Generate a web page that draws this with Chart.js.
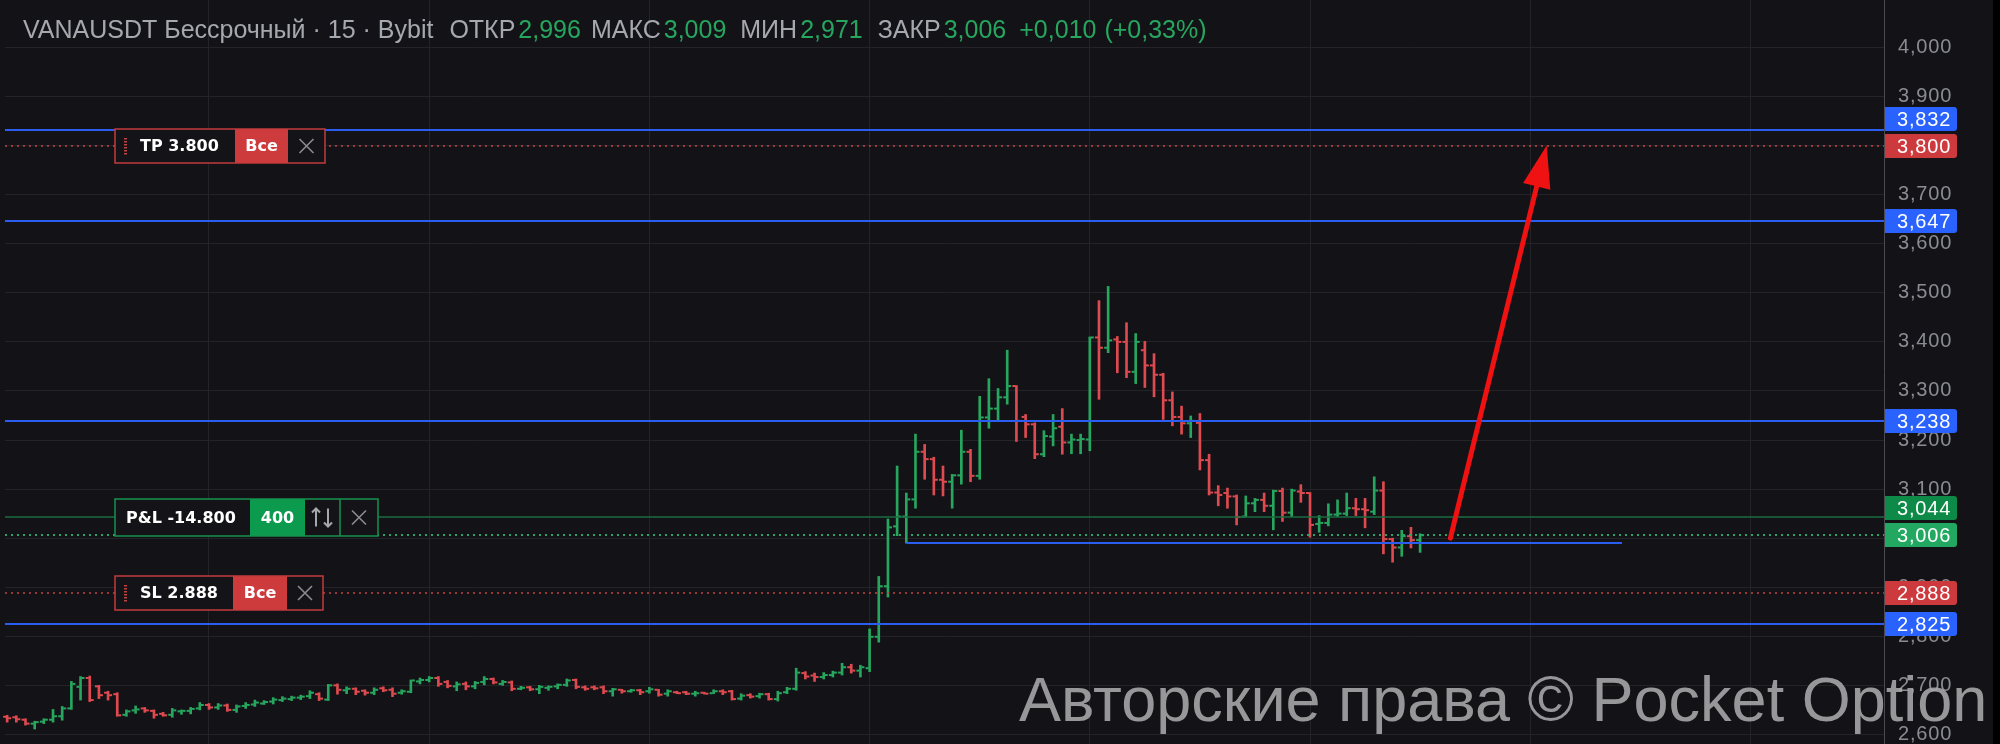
<!DOCTYPE html>
<html>
<head>
<meta charset="utf-8">
<script src="https://cdn.jsdelivr.net/npm/chart.js@4.4.1/dist/chart.umd.min.js"></script>
<style>
  html, body { margin: 0; padding: 0; background: #131317; }
  canvas { display: block; }
</style>
</head>
<body>
<canvas id="chart" width="2000" height="744"></canvas>
<script>
// 15-min bars, first visible bar number
const firstBar = 2;
const opens = [
  2.636,2.635,2.630,2.622,2.626,2.630,2.637,2.653,2.697,2.715,2.698,2.685,2.682,2.640,2.649,2.653,2.648,2.642,2.640,2.647,
  2.648,2.653,2.660,2.655,2.659,2.650,2.658,2.661,2.663,2.667,2.670,2.672,2.675,2.678,2.682,2.671,2.700,2.690,2.693,2.689,
  2.685,2.694,2.691,2.685,2.687,2.708,2.711,2.715,2.707,2.698,2.703,2.698,2.707,2.713,2.703,2.706,2.693,2.696,2.692,2.695,
  2.698,2.701,2.711,2.696,2.696,2.696,2.688,2.691,2.688,2.690,2.688,2.691,2.683,2.686,2.686,2.683,2.685,2.684,2.688,2.688,
  2.673,2.680,2.678,2.682,2.672,2.686,2.693,2.725,2.720,2.717,2.721,2.726,2.737,2.730,2.735,2.799,2.902,3.024,3.044,3.079,
  3.176,3.161,3.119,3.115,3.128,3.176,3.127,3.246,3.264,3.287,3.310,3.247,3.232,3.171,3.207,3.227,3.195,3.200,3.201,3.409,
  3.388,3.405,3.400,3.339,3.383,3.352,3.333,3.281,3.247,3.234,3.235,3.159,3.093,3.092,3.085,3.044,3.071,3.078,3.066,3.096,
  3.052,3.095,3.092,3.029,3.031,3.048,3.050,3.061,3.059,3.054,3.097,2.998,2.981,3.004,2.996
];
const highs = [
  2.639,2.638,2.632,2.627,2.632,2.651,2.657,2.708,2.718,2.719,2.700,2.688,2.685,2.650,2.658,2.655,2.650,2.645,2.653,2.650,
  2.655,2.665,2.663,2.663,2.662,2.660,2.665,2.670,2.669,2.675,2.677,2.678,2.680,2.689,2.685,2.702,2.703,2.697,2.695,2.691,
  2.695,2.697,2.695,2.691,2.711,2.715,2.718,2.718,2.710,2.707,2.707,2.708,2.718,2.715,2.710,2.709,2.698,2.698,2.700,2.699,
  2.703,2.713,2.713,2.699,2.699,2.699,2.694,2.692,2.692,2.692,2.696,2.692,2.691,2.688,2.688,2.688,2.686,2.691,2.691,2.690,
  2.683,2.683,2.684,2.684,2.688,2.696,2.735,2.728,2.725,2.726,2.729,2.745,2.743,2.741,2.815,2.922,3.039,3.147,3.092,3.212,
  3.191,3.165,3.147,3.130,3.220,3.181,3.289,3.325,3.305,3.383,3.311,3.252,3.235,3.219,3.252,3.264,3.212,3.212,3.410,3.484,
  3.513,3.411,3.439,3.417,3.401,3.376,3.336,3.298,3.269,3.249,3.254,3.171,3.107,3.102,3.088,3.086,3.081,3.092,3.098,3.102,
  3.100,3.109,3.093,3.046,3.070,3.078,3.092,3.081,3.081,3.125,3.115,3.000,3.016,3.022,3.009
];
const lows = [
  2.625,2.625,2.619,2.611,2.622,2.625,2.629,2.651,2.670,2.667,2.673,2.670,2.637,2.637,2.643,2.645,2.633,2.637,2.635,2.641,
  2.642,2.650,2.651,2.651,2.647,2.645,2.653,2.657,2.661,2.662,2.667,2.669,2.671,2.673,2.669,2.669,2.682,2.683,2.681,2.680,
  2.681,2.687,2.677,2.682,2.685,2.703,2.707,2.698,2.695,2.689,2.691,2.693,2.701,2.703,2.700,2.689,2.691,2.689,2.683,2.690,
  2.693,2.698,2.693,2.690,2.691,2.683,2.678,2.684,2.686,2.681,2.684,2.678,2.678,2.683,2.681,2.678,2.682,2.683,2.681,2.670,
  2.670,2.674,2.674,2.670,2.668,2.683,2.690,2.713,2.708,2.713,2.717,2.721,2.725,2.717,2.728,2.788,2.880,3.005,2.990,3.061,
  3.120,3.088,3.086,3.061,3.110,3.115,3.120,3.224,3.239,3.273,3.197,3.205,3.162,3.166,3.188,3.171,3.172,3.172,3.178,3.283,
  3.378,3.337,3.327,3.315,3.307,3.288,3.242,3.229,3.212,3.205,3.139,3.088,3.066,3.061,3.027,3.043,3.054,3.054,3.017,3.034,
  3.044,3.073,3.002,3.012,3.025,3.044,3.046,3.046,3.021,3.048,2.968,2.951,2.963,2.980,2.971
];
const closes = [
  2.633,2.631,2.622,2.625,2.630,2.637,2.653,2.703,2.715,2.670,2.680,2.680,2.639,2.647,2.651,2.649,2.640,2.639,2.649,2.648,
  2.652,2.660,2.655,2.659,2.650,2.657,2.660,2.665,2.666,2.671,2.673,2.675,2.677,2.685,2.673,2.700,2.691,2.693,2.687,2.685,
  2.691,2.690,2.683,2.688,2.710,2.711,2.715,2.703,2.699,2.702,2.698,2.705,2.713,2.706,2.707,2.693,2.695,2.692,2.697,2.697,
  2.701,2.710,2.697,2.693,2.694,2.688,2.692,2.688,2.690,2.686,2.692,2.681,2.688,2.684,2.683,2.684,2.683,2.688,2.686,2.672,
  2.679,2.677,2.682,2.672,2.684,2.693,2.726,2.718,2.717,2.721,2.726,2.737,2.730,2.737,2.799,2.902,3.022,3.044,3.079,3.176,
  3.161,3.119,3.115,3.128,3.176,3.127,3.246,3.264,3.287,3.310,3.239,3.232,3.171,3.208,3.224,3.195,3.201,3.202,3.409,3.388,
  3.403,3.400,3.339,3.400,3.352,3.333,3.281,3.247,3.234,3.239,3.159,3.093,3.088,3.085,3.043,3.071,3.078,3.066,3.096,3.052,
  3.097,3.092,3.027,3.031,3.048,3.050,3.061,3.059,3.057,3.097,2.998,2.981,3.004,2.996,3.006
];

// axis ticks
const yTicks = [2.6,2.7,2.8,2.9,3.0,3.1,3.2,3.3,3.4,3.5,3.6,3.7,3.8,3.9,4.0];
const xGrid = [24,48,72,96,120,144,168,192];

// horizontal price levels and their kind
const levelValues = [3.832, 3.800, 3.647, 3.238, 3.044, 3.006, 2.888, 2.825];
const levelKinds  = ['blue', 'tp', 'blue', 'blue', 'pnl', 'last', 'sl', 'blue'];

// short blue ray
const rayLevel = 2.990;
const rayFrom = 100;
const rayTo = 178;

// red arrow [bar, price]
const arrowStart = [159.3, 3.000];
const arrowEnd = [169.8, 3.800];

const tpLevel = 3.800;
const slLevel = 2.888;
const pnlLevel = 3.044;
const pnlText = 'P&L -14.800';
const qtyText = '400';

const symbolText = 'VANAUSDT Бессрочный · 15 · Bybit';
const watermark = 'Авторские права © Pocket Option';

const GREEN = '#26a65e';
const RED = '#de4a4f';
const GRID = '#232328';

const fmt = v => v.toFixed(3).replace('.', ',');

const barNo = opens.map((_, k) => firstBar + k);
const upBars = [], downBars = [];
barNo.forEach((x, k) => {
  const item = { x: x, y: [lows[k], highs[k]] };
  if (closes[k] >= opens[k]) upBars.push(item); else downBars.push(item);
});

const levelStyle = {
  blue: { color: '#2a5df0', width: 2, dash: [], badge: '#2962ff' },
  tp:   { color: '#c64444', width: 1.5, dash: [2, 4], badge: '#cc3a3d' },
  sl:   { color: '#c64444', width: 1.5, dash: [2, 4], badge: '#cc3a3d' },
  pnl:  { color: '#1b6b42', width: 1.5, dash: [], badge: '#0d8a47' },
  last: { color: '#2aa36a', width: 2, dash: [2, 4], badge: '#22a861' }
};

const ohlcTicks = {
  id: 'ohlcTicks',
  beforeDraw(chart) { chart.ctx.letterSpacing = '0.8px'; },
  beforeDatasetsDraw(chart) { chart.ctx.letterSpacing = '0px'; },
  afterDatasetsDraw(chart) {
    const ctx = chart.ctx, xs = chart.scales.x, ys = chart.scales.y;
    ctx.save();
    barNo.forEach((b, k) => {
      const x = xs.getPixelForValue(b);
      ctx.fillStyle = closes[k] >= opens[k] ? GREEN : RED;
      ctx.fillRect(x - 4, ys.getPixelForValue(opens[k]) - 1, 3, 2);
      ctx.fillRect(x + 1, ys.getPixelForValue(closes[k]) - 1, 3, 2);
    });
    ctx.restore();
  }
};

function drawCross(ctx, cx, cy) {
  ctx.strokeStyle = '#8c8c90';
  ctx.lineWidth = 1.6;
  ctx.setLineDash([]);
  ctx.beginPath();
  ctx.moveTo(cx - 7, cy - 7); ctx.lineTo(cx + 7, cy + 7);
  ctx.moveTo(cx + 7, cy - 7); ctx.lineTo(cx - 7, cy + 7);
  ctx.stroke();
}

function drawHandle(ctx, x, top, h) {
  ctx.fillStyle = '#c43f3f';
  for (let yy = top + 9; yy < top + h - 9; yy += 3) ctx.fillRect(x - 1, yy, 3, 1.5);
}

function drawTpSl(ctx, y, label, w, redFrom, redTo) {
  const left = 115, h = 34, top = Math.round(y) - 17;
  ctx.fillStyle = '#141418';
  ctx.fillRect(left, top, w, h);
  ctx.fillStyle = '#cd3b3d';
  ctx.fillRect(redFrom, top, redTo - redFrom, h);
  ctx.strokeStyle = '#c23b3d';
  ctx.lineWidth = 1.5;
  ctx.setLineDash([]);
  ctx.strokeRect(left, top, w, h);
  drawHandle(ctx, 125, top, h);
  ctx.fillStyle = '#ffffff';
  ctx.font = 'bold 16px "DejaVu Sans"';
  ctx.textBaseline = 'middle';
  ctx.textAlign = 'left';
  ctx.fillText(label, 140, top + h / 2 + 1);
  ctx.textAlign = 'center';
  ctx.fillText('Все', (redFrom + redTo) / 2, top + h / 2 + 1);
  drawCross(ctx, (redTo + left + w) / 2, top + h / 2);
}

function drawPnl(ctx, y) {
  const left = 115, w = 263, h = 37, top = Math.round(y) - 18;
  ctx.fillStyle = '#141418';
  ctx.fillRect(left, top, w, h);
  ctx.fillStyle = '#0c9a4f';
  ctx.fillRect(250, top, 55, h);
  ctx.strokeStyle = '#16934f';
  ctx.lineWidth = 1.5;
  ctx.setLineDash([]);
  ctx.strokeRect(left, top, w, h);
  ctx.beginPath();
  ctx.moveTo(340, top); ctx.lineTo(340, top + h);
  ctx.stroke();
  ctx.fillStyle = '#ffffff';
  ctx.font = 'bold 16px "DejaVu Sans"';
  ctx.textBaseline = 'middle';
  ctx.textAlign = 'left';
  ctx.fillText(pnlText, 126, top + h / 2 + 1);
  ctx.textAlign = 'center';
  ctx.fillText(qtyText, 277.5, top + h / 2 + 1);
  // up/down arrows
  const cy = top + h / 2;
  ctx.strokeStyle = '#a8a8ac';
  ctx.lineWidth = 2;
  ctx.beginPath();
  ctx.moveTo(316, cy + 9); ctx.lineTo(316, cy - 9);
  ctx.moveTo(312, cy - 5); ctx.lineTo(316, cy - 9); ctx.lineTo(320, cy - 5);
  ctx.moveTo(328, cy - 9); ctx.lineTo(328, cy + 9);
  ctx.moveTo(324, cy + 5); ctx.lineTo(328, cy + 9); ctx.lineTo(332, cy + 5);
  ctx.stroke();
  drawCross(ctx, 359, cy);
}

const overlay = {
  id: 'overlay',
  afterDatasetsDraw(chart) {
    const ctx = chart.ctx, xs = chart.scales.x, ys = chart.scales.y, a = chart.chartArea;
    ctx.save();
    levelValues.forEach((v, k) => {
      const st = levelStyle[levelKinds[k]];
      const y = Math.round(ys.getPixelForValue(v));
      ctx.strokeStyle = st.color;
      ctx.lineWidth = st.width;
      ctx.setLineDash(st.dash);
      ctx.beginPath();
      ctx.moveTo(a.left, y); ctx.lineTo(a.right, y);
      ctx.stroke();
    });
    ctx.setLineDash([]);
    // blue ray
    const ry = Math.round(ys.getPixelForValue(rayLevel));
    ctx.strokeStyle = '#2a5df0';
    ctx.lineWidth = 2;
    ctx.beginPath();
    ctx.moveTo(xs.getPixelForValue(rayFrom), ry);
    ctx.lineTo(xs.getPixelForValue(rayTo), ry);
    ctx.stroke();
    // red arrow
    const x0 = xs.getPixelForValue(arrowStart[0]), y0 = ys.getPixelForValue(arrowStart[1]);
    const x1 = xs.getPixelForValue(arrowEnd[0]), y1 = ys.getPixelForValue(arrowEnd[1]);
    const len = Math.hypot(x1 - x0, y1 - y0), ux = (x1 - x0) / len, uy = (y1 - y0) / len;
    const bx = x1 - ux * 42, by = y1 - uy * 42;
    ctx.strokeStyle = '#f01212';
    ctx.fillStyle = '#f01212';
    ctx.lineWidth = 5;
    ctx.lineCap = 'round';
    ctx.beginPath();
    ctx.moveTo(x0, y0); ctx.lineTo(bx + ux * 4, by + uy * 4);
    ctx.stroke();
    ctx.beginPath();
    ctx.moveTo(x1, y1);
    ctx.lineTo(bx - uy * 14, by + ux * 14);
    ctx.lineTo(bx + uy * 14, by - ux * 14);
    ctx.closePath();
    ctx.fill();
    ctx.restore();
  },
  afterDraw(chart) {
    const ctx = chart.ctx, ys = chart.scales.y, a = chart.chartArea;
    ctx.save();
    // order boxes
    drawTpSl(ctx, ys.getPixelForValue(tpLevel), 'TP ' + tpLevel.toFixed(3), 210, 235, 288);
    drawPnl(ctx, ys.getPixelForValue(pnlLevel));
    drawTpSl(ctx, ys.getPixelForValue(slLevel), 'SL ' + slLevel.toFixed(3), 208, 233, 287);
    // price badges, pushed upward when they would overlap
    const order = levelValues.map((v, k) => k).sort((p, q) => levelValues[p] - levelValues[q]);
    let prevY = Infinity;
    ctx.letterSpacing = '0.8px';
    order.forEach(k => {
      const st = levelStyle[levelKinds[k]];
      let y = Math.round(ys.getPixelForValue(levelValues[k]));
      if (y > prevY - 27) y = prevY - 27;
      prevY = y;
      ctx.fillStyle = st.badge;
      ctx.beginPath();
      ctx.roundRect(a.right + 1, y - 12, 72, 24, [0, 3, 3, 0]);
      ctx.fill();
      ctx.fillStyle = '#ffffff';
      ctx.font = '20px "Liberation Sans"';
      ctx.textAlign = 'left';
      ctx.textBaseline = 'middle';
      ctx.fillText(fmt(levelValues[k]), a.right + 13, y + 1);
    });
    ctx.letterSpacing = '0px';
    // header
    const n = opens.length - 1;
    const chg = closes[n] - opens[n];
    const pct = chg / opens[n] * 100;
    const grey = '#a6a8b0';
    const parts = [
      [symbolText, grey, 16],
      ['ОТКР', grey, 3], [fmt(opens[n]), GREEN, 10],
      ['МАКС', grey, 3], [fmt(highs[n]), GREEN, 14],
      ['МИН', grey, 3], [fmt(lows[n]), GREEN, 15],
      ['ЗАКР', grey, 3], [fmt(closes[n]), GREEN, 13],
      ['+' + fmt(chg), GREEN, 8],
      ['(+' + pct.toFixed(2).replace('.', ',') + '%)', GREEN, 0]
    ];
    ctx.font = '25px "Liberation Sans"';
    ctx.textAlign = 'left';
    ctx.textBaseline = 'alphabetic';
    let x = 23;
    parts.forEach(([t, c, gap]) => {
      ctx.fillStyle = c;
      ctx.fillText(t, x, 38);
      x += ctx.measureText(t).width + gap;
    });
    // watermark
    ctx.font = '63px "Liberation Sans"';
    ctx.fillStyle = 'rgba(170,170,172,0.88)';
    ctx.fillText(watermark, 1019, 721);
    // right edge strip
    ctx.fillStyle = '#000000';
    ctx.fillRect(1993, 0, 7, 744);
    ctx.restore();
  }
};

new Chart(document.getElementById('chart'), {
  type: 'bar',
  data: {
    datasets: [
      { label: 'up', data: upBars, backgroundColor: GREEN, borderWidth: 0, barThickness: 2, grouped: false },
      { label: 'down', data: downBars, backgroundColor: RED, borderWidth: 0, barThickness: 2, grouped: false }
    ]
  },
  options: {
    responsive: false,
    animation: false,
    layout: { padding: { left: 5, right: 0, top: 0, bottom: 0 } },
    plugins: { legend: { display: false }, tooltip: { enabled: false } },
    scales: {
      x: {
        type: 'linear',
        min: 1.766,
        max: 206.56,
        offset: false,
        afterBuildTicks: s => { s.ticks = xGrid.map(v => ({ value: v })); },
        afterFit: s => { s.height = 0; s.paddingLeft = 0; s.paddingRight = 0; },
        grid: { color: GRID, drawTicks: false, offset: false },
        border: { display: false },
        ticks: { display: false }
      },
      y: {
        position: 'right',
        min: 2.5805,
        max: 4.0967,
        afterBuildTicks: s => { s.ticks = yTicks.map(v => ({ value: v })); },
        afterFit: s => { s.width = 116; s.paddingTop = 0; s.paddingBottom = 0; },
        grid: { color: GRID, drawTicks: false },
        border: { display: true, color: '#4a4a50' },
        ticks: {
          color: '#8b8c92',
          padding: 14,
          font: { family: 'Liberation Sans', size: 20 },
          callback: v => fmt(v)
        }
      }
    }
  },
  plugins: [ohlcTicks, overlay]
});
</script>
</body>
</html>
